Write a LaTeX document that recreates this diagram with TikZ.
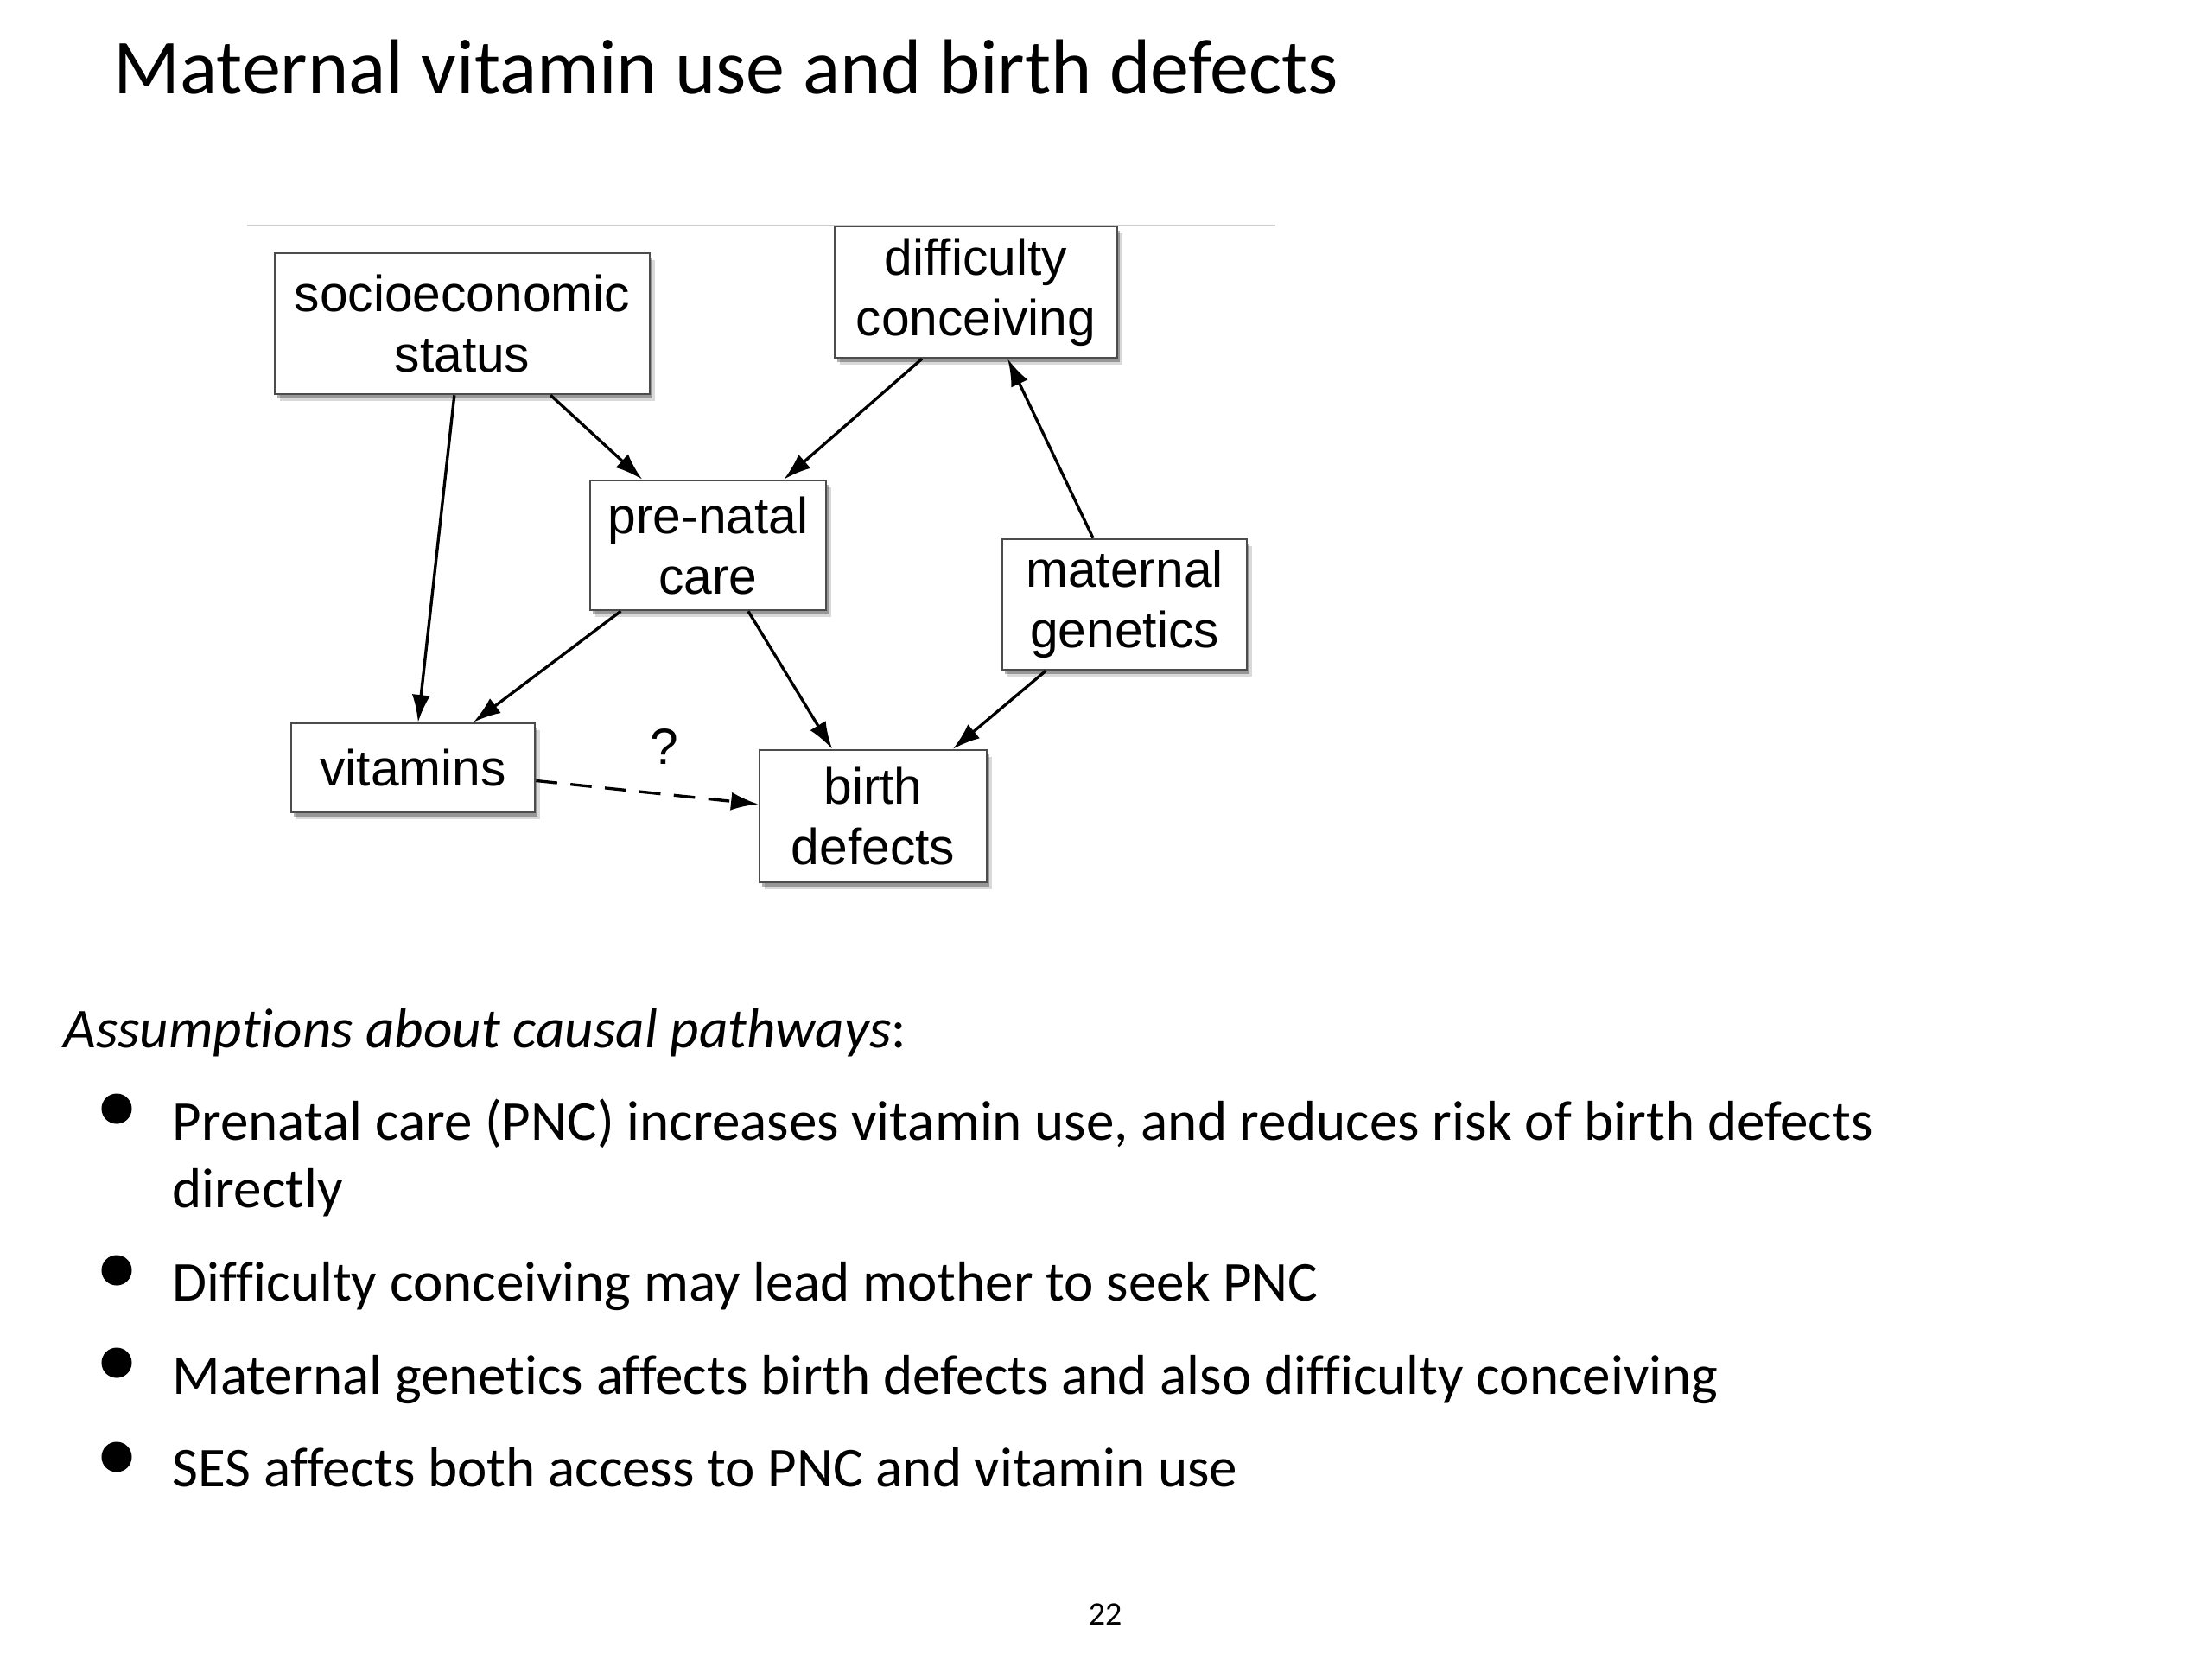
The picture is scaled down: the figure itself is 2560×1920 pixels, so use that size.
\documentclass[tikz,border=0pt]{standalone}
\usepackage{fontspec}
\setmainfont{Carlito}[Ligatures=NoCommon]
\newfontfamily\boxfont{Liberation Sans}
\usepackage{xcolor}
\usetikzlibrary{arrows.meta,shadows}

\begin{document}
\begin{tikzpicture}[x=0.01cm, y=-0.01cm, >={Latex[length=9pt,width=6pt]}]
    % --- Definitions ---
    \def\boxsize{\fontsize{16.7}{19.9}\selectfont}
    \def\textsize{\fontsize{18.5}{22}\selectfont}
    \def\bulletR{0.175cm}
    \tikzset{
        var/.style={draw=black!70, line width=0.7pt, fill=white, align=center,
            font=\boxfont\boxsize, inner sep=0pt,
            drop shadow={shadow xshift=0.06cm, shadow yshift=-0.08cm, opacity=0.15, fill=black},
            drop shadow={shadow xshift=0.03cm, shadow yshift=-0.05cm, opacity=0.3, fill=black}},
        link/.style={->, line width=0.95pt},
        line/.style={anchor=base west, inner sep=0pt, font=\textsize}
    }

    % --- Page ---
    \useasboundingbox[fill=white] (0,0) rectangle (2560,1920);

    % --- Title ---
    \node[anchor=base west, inner sep=0pt, font=\fontsize{25.6}{31}\selectfont]
        (title) at (131,108) {Maternal vitamin use and birth defects};

    % --- Rule above the graph ---
    \draw[line width=0.6pt, black!20] (286,261) -- (1476,261);

    % --- Variables ---
    \node[var, minimum width=4.34cm, minimum height=1.63cm] (ses)  at (535,374.5)   {socioeconomic\\status};
    \node[var, minimum width=3.26cm, minimum height=1.52cm] (diff) at (1129.5,338)  {difficulty\\conceiving};
    \node[var, minimum width=2.73cm, minimum height=1.50cm] (pnc)  at (819.5,631)   {pre-natal\\care};
    \node[var, minimum width=2.83cm, minimum height=1.51cm] (gen)  at (1301.5,699.5) {maternal\\genetics};
    \node[var, minimum width=2.82cm, minimum height=1.03cm] (vit)  at (478,888.5)   {vitamins};
    \node[var, minimum width=2.63cm, minimum height=1.53cm] (bd)   at (1010.5,944.5) {birth\\defects};

    % --- Causal links ---
    \draw[link] (ses) -- (vit);
    \draw[link] (ses.-39) -- (pnc.135);
    \draw[link] (diff.231) -- (pnc.41);
    \draw[link] (gen) -- (diff);
    \draw[link] (pnc) -- (vit);
    \draw[link] (pnc) -- (bd);
    \draw[link] (gen) -- (bd);
    \draw[link, dash pattern=on 7pt off 4.4pt] (vit) -- (bd);
    \node[font=\boxfont\boxsize] (q) at (769,864) {?};

    % --- Assumptions ---
    \node[line] (assume) at (73,1212) {\textit{Assumptions about causal pathways}:};
    \foreach \y in {1283,1470,1577,1686}
        \fill (135,\y) circle (\bulletR);
    \node[line] (pncline) at (199,1319) {Prenatal care (PNC) increases vitamin use, and reduces risk of birth defects};
    \node[line] (pncmore) at (199,1397) {directly};
    \node[line] (diffline) at (199,1505) {Difficulty conceiving may lead mother to seek PNC};
    \node[line] (genline) at (199,1613) {Maternal genetics affects birth defects and also difficulty conceiving};
    \node[line] (sesline) at (199,1720) {SES affects both access to PNC and vitamin use};

    % --- Page number ---
    \node[anchor=base, inner sep=0pt, font=\fontsize{10.8}{13}\selectfont] (page) at (1279,1880) {22};
\end{tikzpicture}
\end{document}
